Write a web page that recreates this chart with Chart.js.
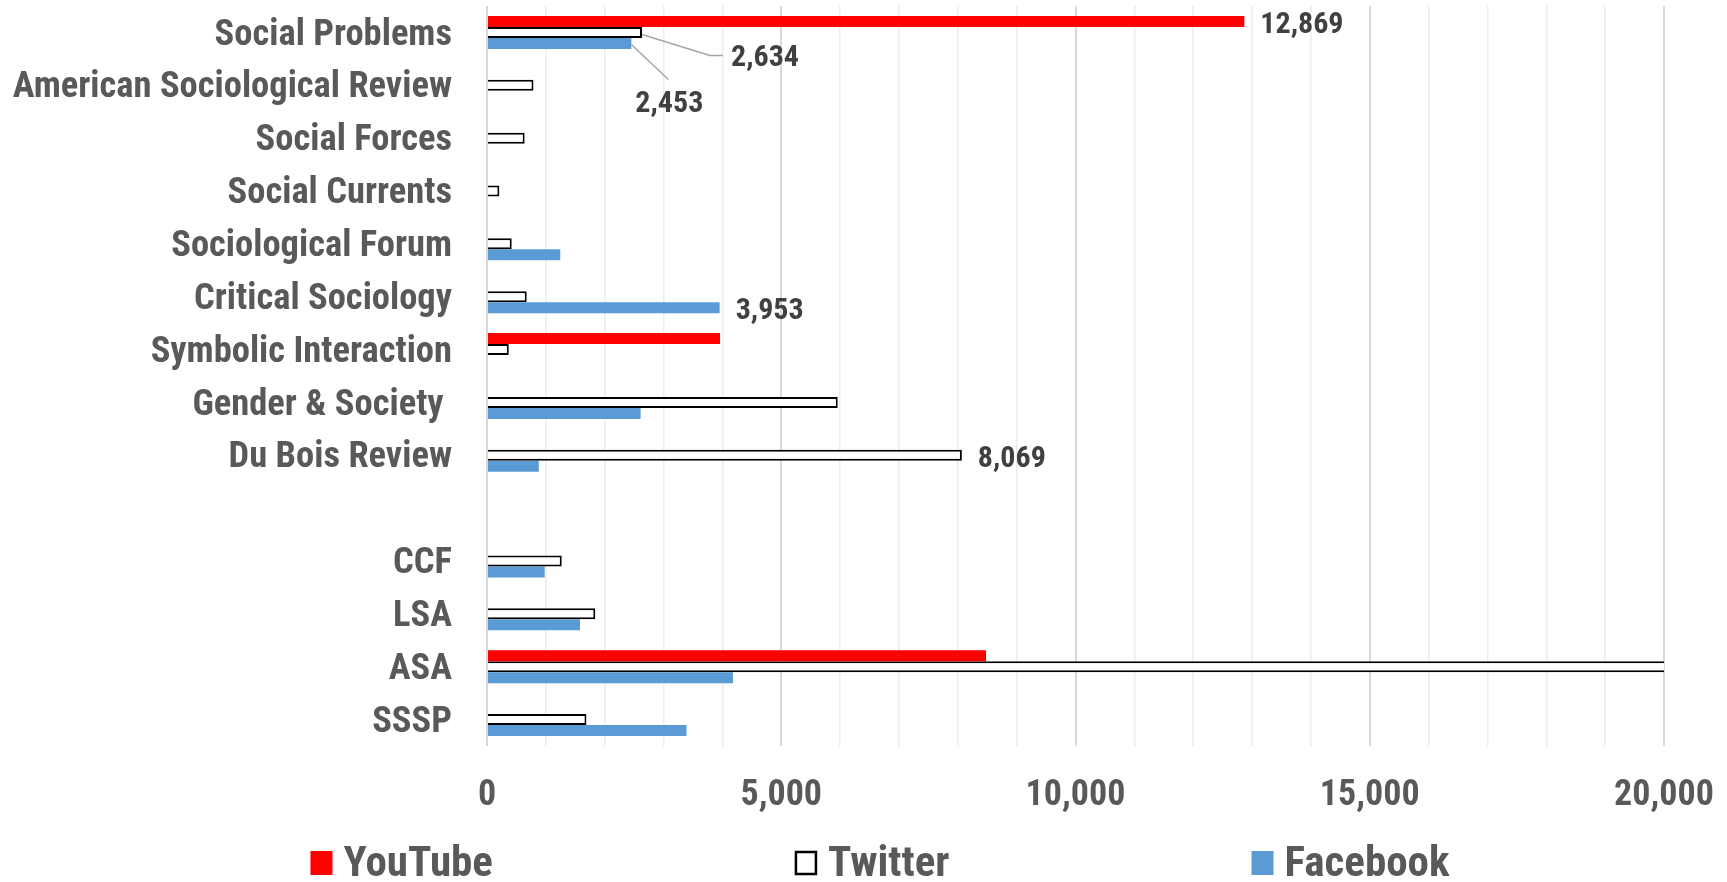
<!DOCTYPE html>
<html>
<head>
<meta charset="utf-8">
<script src="https://cdn.jsdelivr.net/npm/chart.js@4/dist/chart.umd.min.js"></script>
<style>
  html, body { margin: 0; padding: 0; background: #fff; }
  #wrap { width: 1727px; height: 882px; }
</style>
</head>
<body>
<div id="wrap"><canvas id="socialChart"></canvas></div>
<script>
// categories (blank row separates journals from associations)
const categories = ['Social Problems', 'American Sociological Review', 'Social Forces', 'Social Currents',
  'Sociological Forum', 'Critical Sociology', 'Symbolic Interaction', 'Gender & Society ', 'Du Bois Review',
  '', 'CCF', 'LSA', 'ASA', 'SSSP'];

const youtube  = [12869, null, null, null, null, null, 3960, null, null, null, null, null, 8480, null];
const twitter  = [2634, 790, 640, 210, 420, 675, 370, 5960, 8069, null, 1270, 1840, 26000, 1690];
const facebook = [2453, null, null, null, 1245, 3953, null, 2610, 880, null, 980, 1580, 4180, 3390];

const xTicks = [0, 5000, 10000, 15000, 20000];

// which bars carry a value label: [dataset index, category index, leader line?]
const labelled = [[0, 0, false], [1, 0, true], [2, 0, true], [2, 5, false], [1, 8, false]];

const FONT = '"Roboto Condensed", "Liberation Sans Narrow", sans-serif';
const GREY = '#595959';

// value labels next to selected bars
const valueLabels = {
  id: 'valueLabels',
  afterDatasetsDraw(chart) {
    const ctx = chart.ctx;
    ctx.save();
    ctx.font = 'bold 30px ' + FONT;
    ctx.fillStyle = '#404040';
    ctx.textBaseline = 'middle';
    ctx.textAlign = 'left';
    labelled.forEach(([ds, i, leader]) => {
      const bar = chart.getDatasetMeta(ds).data[i];
      const txt = chart.data.datasets[ds].data[i].toLocaleString('en-US');
      if (!leader) {
        ctx.fillText(txt, bar.x + 16, bar.y + 4);
        return;
      }
      ctx.strokeStyle = '#a6a6a6';
      ctx.lineWidth = 1.5;
      ctx.beginPath();
      if (ds === 1) {
        ctx.moveTo(bar.x, bar.y + 2);
        ctx.lineTo(bar.x + 68, bar.y + 23);
        ctx.lineTo(bar.x + 81, bar.y + 23);
        ctx.stroke();
        ctx.fillText(txt, bar.x + 89, bar.y + 26);
      } else {
        ctx.moveTo(bar.x, bar.y + 1);
        ctx.lineTo(bar.x + 37, bar.y + 36);
        ctx.stroke();
        ctx.fillText(txt, bar.x + 4, bar.y + 61);
      }
    });
    ctx.restore();
  }
};

// legend spread along the bottom like the original
const bottomLegend = {
  id: 'bottomLegend',
  afterDraw(chart) {
    const ctx = chart.ctx;
    const box = 22, gap = 11, spacing = 302, y = 862, centre = 880;
    ctx.save();
    ctx.font = 'bold 43px ' + FONT;
    ctx.textBaseline = 'middle';
    const items = chart.data.datasets.map(d => ({ d, w: box + gap + ctx.measureText(d.label).width }));
    const total = items.reduce((s, it) => s + it.w, 0) + spacing * (items.length - 1);
    let x = centre - total / 2;
    items.forEach(({ d, w }) => {
      ctx.fillStyle = d.backgroundColor;
      ctx.fillRect(x, y - 11, box, 24);
      if (d.borderWidth) {
        ctx.strokeStyle = d.borderColor;
        ctx.lineWidth = 2.5;
        ctx.strokeRect(x + 1, y - 10, box - 2, 22);
      }
      ctx.fillStyle = GREY;
      ctx.fillText(d.label, x + box + gap, y + 3);
      x += w + spacing;
    });
    ctx.restore();
  }
};

const ctx = document.getElementById('socialChart').getContext('2d');
const socialChart = new Chart(ctx, {
  type: 'bar',
  data: {
    labels: categories,
    datasets: [{
      label: 'YouTube',
      data: youtube,
      backgroundColor: '#ff0000'
    }, {
      label: 'Twitter',
      data: twitter,
      backgroundColor: '#ffffff',
      borderColor: '#000000',
      borderWidth: 2,
      clip: { left: 10, top: 10, right: 0, bottom: 10 }
    }, {
      label: 'Facebook',
      data: facebook,
      backgroundColor: '#5b9bd5'
    }]
  },
  options: {
    indexAxis: 'y',
    responsive: true,
    maintainAspectRatio: false,
    animation: false,
    categoryPercentage: 0.624,
    barPercentage: 1.0,
    layout: {
      padding: { left: 0, right: 63, top: 6, bottom: 69 }
    },
    scales: {
      x: {
        min: 0,
        max: 20000,
        border: { display: false },
        grid: {
          drawTicks: false,
          color: c => (c.tick && c.tick.value % 5000 === 0) ? '#d9d9d9' : '#ececec',
          lineWidth: c => (c.tick && c.tick.value % 5000 === 0) ? 2 : 1.5
        },
        ticks: {
          stepSize: 1000,
          autoSkip: false,
          maxRotation: 0,
          padding: 28,
          color: GREY,
          font: { family: FONT, size: 36, weight: 'bold' },
          callback: v => xTicks.includes(v) ? v.toLocaleString('en-US') : ''
        },
        afterFit: s => { s.height = 67; s.paddingLeft = 0; s.paddingRight = 0; }
      },
      y: {
        border: { display: false },
        grid: { display: false, drawTicks: false },
        ticks: {
          padding: 35,
          labelOffset: 3,
          autoSkip: false,
          color: GREY,
          font: { family: FONT, size: 36.5, weight: 'bold' }
        },
        afterFit: s => { s.width = 487; s.paddingTop = 0; s.paddingBottom = 0; }
      }
    },
    plugins: {
      legend: { display: false },
      tooltip: { enabled: false }
    }
  },
  plugins: [valueLabels, bottomLegend]
});
</script>
</body>
</html>
